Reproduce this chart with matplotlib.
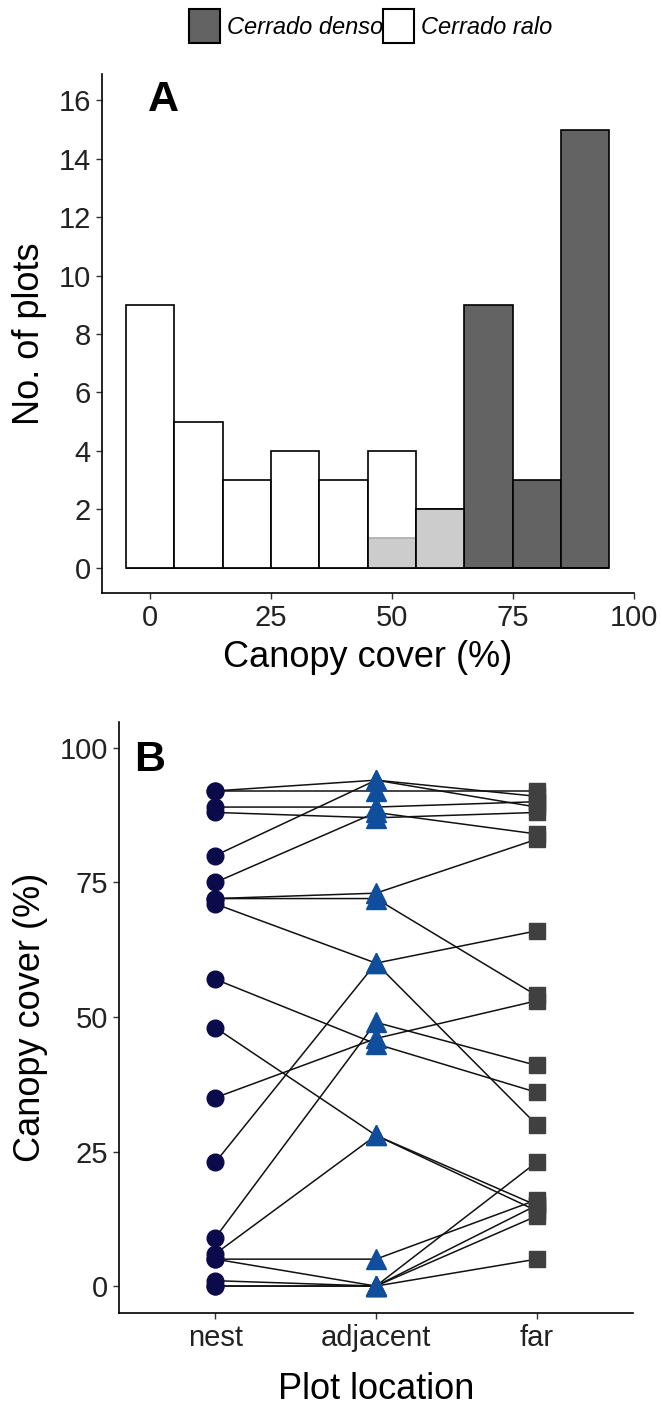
import matplotlib.pyplot as plt
from matplotlib.patches import Patch

plt.rcParams['font.family'] = ['Liberation Sans', 'DejaVu Sans']

# Panel A: histogram counts per 10% canopy-cover bin
bin_centers = [0, 10, 20, 30, 40, 50, 60, 70, 80, 90]
ralo_counts = [9, 5, 3, 4, 3, 4, 2, 0, 0, 0]
denso_counts = [0, 0, 0, 0, 0, 1, 2, 9, 3, 15]

# Panel B: canopy cover of each nest and its paired plots
locations = ['nest', 'adjacent', 'far']
nest_cover = [92, 92, 89, 88, 80, 75, 72, 72, 71, 57, 48, 35, 23, 9, 6, 5, 5, 1, 0, 0]
adjacent_cover = [94, 92, 89, 87, 94, 88, 73, 72, 60, 45, 28, 46, 60, 49, 28, 5, 0, 0, 0, 0]
far_cover = [91, 92, 90, 88, 89, 84, 83, 54, 66, 36, 15, 53, 30, 41, 14, 16, 23, 13, 15, 5]

dark = '#636363'
tick_col = '#222222'

fig = plt.figure(figsize=(6.62, 14.05), dpi=100)

# ---- Panel A ----
ax1 = fig.add_axes([0.154, 0.5781, 0.803, 0.3692])
ax1.bar(bin_centers, denso_counts, width=10, color=dark, edgecolor='black', linewidth=1.2)
# white bars are semi-transparent, so the overlap with dense bars turns light grey
ax1.bar(bin_centers, ralo_counts, width=10, facecolor=(1, 1, 1, 0.68), edgecolor='black', linewidth=1.2)
ax1.set_xlim(-10, 100)
ax1.set_ylim(-0.86, 16.9)
ax1.set_xticks([0, 25, 50, 75, 100])
ax1.set_yticks(range(0, 17, 2))
ax1.set_xlabel('Canopy cover (%)', fontsize=26, labelpad=6)
ax1.set_ylabel('No. of plots', fontsize=26, labelpad=8)
ax1.text(0.115, 0.95, 'A', transform=ax1.transAxes, fontsize=31, fontweight='bold', va='center', ha='center')

# ---- Panel B ----
ax2 = fig.add_axes([0.1798, 0.0655, 0.7762, 0.4206])
for n, a, f in zip(nest_cover, adjacent_cover, far_cover):
    ax2.plot(locations, [n, a, f], color='#111111', lw=1.1, zorder=1)
ax2.plot([locations[0]] * len(nest_cover), nest_cover, 'o', color='#0b0b4b', ms=12, ls='none', zorder=3)
ax2.plot([locations[1]] * len(adjacent_cover), adjacent_cover, '^', color='#104e9c', ms=14, ls='none', zorder=3)
ax2.plot([locations[2]] * len(far_cover), far_cover, 's', color='#404040', ms=11, ls='none', zorder=3)
ax2.set_xlim(-0.6, 2.6)
ax2.set_ylim(-5, 104.8)
ax2.set_yticks([0, 25, 50, 75, 100])
ax2.set_xlabel('Plot location', fontsize=26, labelpad=14)
ax2.set_ylabel('Canopy cover (%)', fontsize=26, labelpad=8)
ax2.text(0.06, 0.935, 'B', transform=ax2.transAxes, fontsize=31, fontweight='bold', va='center', ha='center')

for ax in (ax1, ax2):
    for side in ('top', 'right'):
        ax.spines[side].set_visible(False)
    for side in ('left', 'bottom'):
        ax.spines[side].set_linewidth(1.2)
    ax.tick_params(labelsize=21, length=4, width=1, colors='#333333', labelcolor=tick_col, pad=4)

handles = [Patch(facecolor=dark, edgecolor='black', linewidth=1.5, label='Cerrado denso'),
           Patch(facecolor='white', edgecolor='black', linewidth=1.5, label='Cerrado ralo')]
fig.legend(handles=handles, loc='center', bbox_to_anchor=(0.56, 0.9815), ncol=2, frameon=False,
           prop={'style': 'italic', 'size': 17}, handlelength=1.3, handleheight=1.8,
           handletextpad=0.3, columnspacing=0.0)

fig.savefig('out.png', dpi=100)
